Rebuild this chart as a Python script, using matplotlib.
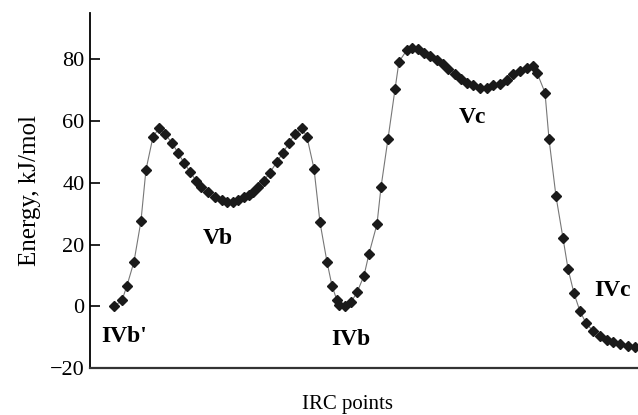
import numpy as np
import matplotlib
matplotlib.use('Agg')
import matplotlib.pyplot as plt

# IRC coordinate (arbitrary units) and energy, kJ/mol
irc = [24, 32, 37, 44, 51, 56, 63, 69, 75, 82, 88, 94, 100, 106, 111, 118, 125,
       132, 137, 143, 148, 154, 159, 163, 168, 174, 180, 187, 193, 199, 205, 212,
       217, 224, 230, 237, 242, 247, 249, 255, 261, 267, 274, 279, 287, 291, 298,
       305, 309, 317, 322, 328, 334, 340, 347, 353, 358, 365, 371, 377, 383, 390,
       397, 403, 410, 417, 423, 430, 437, 443, 447, 455, 459, 466, 473, 478, 484,
       490, 496, 503, 510, 517, 523, 530, 538, 545]
energy = [0.0, 1.9, 6.7, 14.4, 27.6, 44.2, 54.8, 57.7, 55.8, 52.9, 49.7, 46.5,
          43.6, 40.7, 38.5, 36.9, 35.3, 34.3, 33.7, 33.7, 34.3, 35.3, 36.2, 36.9,
          38.5, 40.7, 43.3, 46.8, 49.7, 52.9, 55.8, 57.7, 54.8, 44.6, 27.2, 14.4,
          6.7, 1.9, 0.3, 0.0, 1.3, 4.5, 9.9, 17.0, 26.6, 38.5, 54.2, 70.2, 79.2,
          83.0, 83.7, 83.3, 82.1, 81.1, 79.8, 78.5, 76.9, 75.3, 73.7, 72.4, 71.5,
          70.8, 70.8, 71.5, 72.1, 73.4, 75.3, 76.3, 77.2, 77.9, 75.6, 69.2, 54.2,
          35.6, 22.1, 12.2, 4.2, -1.6, -5.4, -8.0, -9.6, -10.9, -11.6, -12.3,
          -12.8, -13.2]

labels = ["IVb'", "Vb", "IVb", "Vc", "IVc"]
label_x = [34, 128, 261, 382, 522]
label_y = [-9.7, 22, -10.6, 61, 5]

plt.rcParams['font.family'] = ['Liberation Serif', 'DejaVu Serif']

fig = plt.figure(figsize=(6.38, 4.15), dpi=100)
ax = fig.add_axes([0.141, 0.113, 0.859, 0.856])

ax.plot(irc, energy, color='#777777', lw=0.8, zorder=1)
ax.plot(irc, energy, ls='none', marker='D', ms=5, color='#1a1a1a', zorder=2)

for t, x, y in zip(labels, label_x, label_y):
    ax.text(x, y, t, fontsize=17, fontweight='bold', ha='center', va='center')

ax.set_xlim(0, 548)
ax.set_ylim(-20, 95)
ax.set_yticks([-20, 0, 20, 40, 60, 80])
ax.set_yticklabels(['\u221220', '0', '20', '40', '60', '80'])
ax.set_xticks([])
ax.tick_params(axis='y', direction='in', length=7, width=1.2, labelsize=16, pad=4)

ax.spines['top'].set_visible(False)
ax.spines['right'].set_visible(False)
ax.spines['left'].set_linewidth(1.3)
ax.spines['bottom'].set_linewidth(1.6)
ax.spines['bottom'].set_color('#333333')

ax.set_ylabel('Energy, kJ/mol', fontsize=18, labelpad=6)
ax.set_xlabel('IRC points', fontsize=15)
ax.xaxis.set_label_coords(0.47, -0.076)

fig.savefig('out.png', dpi=100)
